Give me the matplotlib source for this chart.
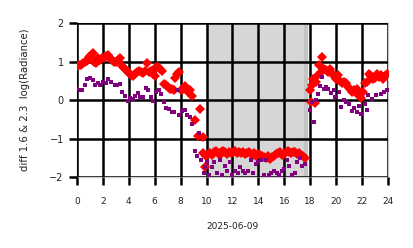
import numpy as np
import matplotlib.pyplot as plt

# hours of 2025-06-09 and log radiance difference
red_t = [0.0, 0.15, 0.3, 0.45, 0.6, 0.75, 0.9, 1.05, 1.2, 1.35, 1.5, 1.65, 1.8, 1.95,
         2.1, 2.25, 2.4, 2.55, 2.7, 2.85, 3.0, 3.15, 3.3, 3.45, 3.6, 3.75, 3.9, 4.05,
         4.2, 4.35, 4.5, 4.65, 4.8, 4.95, 5.1, 5.25, 5.4, 5.55, 5.7, 5.85, 6.0, 6.1,
         6.25, 6.4, 6.55, 6.7, 6.85, 7.0, 7.15, 7.3, 7.45, 7.55, 7.7, 7.85, 8.0, 8.15,
         8.3, 8.45, 8.6, 8.75, 8.9, 9.1, 9.35, 9.5, 9.7, 9.75, 9.85, 9.95,
         10.1, 10.25, 10.4, 10.55, 10.7, 10.85, 11.0, 11.15, 11.3, 11.45, 11.6, 11.75,
         11.9, 12.05, 12.2, 12.35, 12.5, 12.65, 12.8, 12.95, 13.1, 13.25, 13.4, 13.55,
         13.7, 13.85, 14.0, 14.15, 14.3, 14.45, 14.6, 14.75, 14.9, 15.05, 15.2, 15.35,
         15.5, 15.65, 15.8, 15.95, 16.1, 16.25, 16.4, 16.55, 16.7, 16.85, 17.0, 17.15,
         17.3, 17.45, 17.6,
         18.0, 18.05, 18.15, 18.25, 18.35, 18.45, 18.55, 18.7, 18.85, 18.95, 19.1, 19.25,
         19.4, 19.55, 19.7, 19.85, 20.0, 20.15, 20.3, 20.45, 20.6, 20.75, 20.9, 21.05,
         21.2, 21.35, 21.5, 21.65, 21.8, 21.95, 22.1, 22.25, 22.4, 22.55, 22.7, 22.85,
         23.0, 23.15, 23.3, 23.45, 23.6, 23.75, 23.9]
red_v = [0.88, 0.92, 0.9, 0.95, 1.0, 1.02, 1.12, 1.18, 1.22, 1.0, 0.95, 1.08, 1.05, 1.1,
         1.08, 1.15, 1.18, 1.1, 1.05, 0.98, 1.0, 1.05, 1.08, 0.88, 0.82, 0.78, 0.72, 0.7,
         0.65, 0.62, 0.68, 0.72, 0.76, 0.72, 0.7, 0.75, 0.95, 0.72, 0.76, 0.68, 0.62, 0.85,
         0.86, 0.8, 0.76, 0.42, 0.38, 0.35, 0.3, 0.28, 0.25, 0.58, 0.68, 0.72, 0.25, 0.3,
         0.36, 0.32, 0.2, 0.25, 0.1, -0.52, -0.93, -0.24, -0.96, -1.38, -1.74, -1.45,
         -1.4, -1.38, -1.42, -1.36, -1.33, -1.38, -1.42, -1.35, -1.32, -1.36, -1.4, -1.34,
         -1.38, -1.36, -1.33, -1.37, -1.35, -1.38, -1.36, -1.4, -1.38, -1.36, -1.4, -1.42,
         -1.38, -1.44, -1.4, -1.42, -1.46, -1.48, -1.5, -1.45, -1.52, -1.48, -1.44, -1.4,
         -1.38, -1.34, -1.42, -1.4, -1.36, -1.32, -1.35, -1.38, -1.34, -1.36, -1.4, -1.38,
         -1.42, -1.46, -1.5,
         0.25, -0.05, 0.4, 0.55, -0.08, 0.48, 0.62, 0.9, 0.72, 1.12, 0.8, 0.78,
         0.74, 0.8, 0.7, 0.62, 0.55, 0.65, 0.5, 0.45, 0.48, 0.45, 0.35, 0.3,
         0.2, 0.25, 0.18, 0.28, 0.12, 0.05, 0.22, 0.45, 0.48, 0.68, 0.62, 0.55,
         0.58, 0.68, 0.6, 0.65, 0.55, 0.62, 0.68]

purple_t = [0.0, 0.2, 0.4, 0.6, 0.8, 1.0, 1.2, 1.4, 1.6, 1.8, 2.0, 2.2, 2.4, 2.6, 2.9,
            3.1, 3.3, 3.5, 3.7, 3.9, 4.1, 4.3, 4.5, 4.7, 4.9, 5.1, 5.3, 5.5, 5.7, 5.9,
            6.1, 6.3, 6.5, 6.7, 6.9, 7.1, 7.3, 7.5, 7.7, 7.9, 8.1, 8.3, 8.5, 8.7, 8.9,
            9.1, 9.3, 9.45, 9.6, 9.8, 9.9,
            10.0, 10.2, 10.4, 10.6, 10.8, 11.0, 11.2, 11.4, 11.6, 11.8, 12.0, 12.2, 12.4,
            12.6, 12.8, 13.0, 13.2, 13.4, 13.6, 13.8, 14.0, 14.2, 14.4, 14.6, 14.8, 15.0,
            15.2, 15.4, 15.6, 15.8, 16.0, 16.2, 16.4, 16.6, 16.8, 17.0, 17.2, 17.4, 17.6,
            18.0, 18.15, 18.3, 18.45, 18.6, 18.75, 18.9, 19.05, 19.2, 19.4, 19.6, 19.8,
            19.9, 20.2, 20.4, 20.6, 20.8, 21.0, 21.2, 21.4, 21.6, 21.8, 21.9, 22.2, 22.4,
            22.5, 22.8, 23.1, 23.5, 23.7, 23.9]
purple_v = [0.3, 0.25, 0.25, 0.38, 0.55, 0.58, 0.52, 0.38, 0.45, 0.4, 0.48, 0.45, 0.55,
            0.48, 0.4, 0.4, 0.42, 0.2, 0.1, -0.02, 0.05, 0.03, 0.1, 0.18, 0.08, 0.08, 0.32,
            0.25, 0.08, -0.02, 0.22, 0.26, 0.15, -0.05, -0.2, -0.22, -0.3, -0.32, 0.25,
            -0.38, -0.28, -0.25, -0.38, -0.45, -0.62, -1.32, -1.45, -0.86, -1.55, -1.9,
            -1.75,
            -1.6, -1.95, -1.75, -1.6, -1.9, -1.55, -1.95, -1.7, -1.85, -1.6, -1.95, -1.85,
            -1.9, -1.75, -1.85, -1.9, -1.85, -1.55, -1.9, -1.65, -1.6, -1.55, -1.95, -1.55,
            -1.95, -1.9, -1.85, -1.9, -1.95, -1.85, -1.8, -1.55, -1.7, -1.95, -1.9, -1.6,
            -1.5, -1.7, -1.65,
            -0.26, -0.05, -0.57, 0.0, 0.15, 0.37, 0.59, 0.3, 0.35, 0.29, 0.19, 0.25,
            0.09, 0.22, -0.17, 0.0, -0.04, -0.1, -0.28, -0.2, -0.3, -0.16, -0.36, -0.11,
            -0.26, 0.13, 0.04, 0.13, 0.17, 0.22, 0.25]

night_start = 10.0
night_end = 17.75

fig = plt.figure(figsize=(4.14, 2.48), dpi=100)
ax = fig.add_axes([0.186, 0.286, 0.751, 0.621])

ax.axvspan(night_start, night_end, color='#d6d6d6', zorder=0)
ax.axvspan(night_end - 0.2, night_end, color='#bbbbbb', alpha=0.5, zorder=0)

ax.plot(red_t, red_v, 'D', color='red', ms=4.6, mew=0, zorder=3)
ax.plot(purple_t, purple_v, 's', color='purple', ms=2.8, mew=0, zorder=4)

ax.set_xlim(0, 24)
ax.set_ylim(-2, 2)
ax.set_xticks(np.arange(0, 25, 2))
ax.set_yticks([-2, -1, 0, 1, 2])
ax.grid(True, color='black', lw=1.8, zorder=2)
ax.set_axisbelow(False)
ax.tick_params(axis='both', length=6, width=1.8, color='black', labelsize=7,
               labelcolor='#222222')
ax.tick_params(axis='x', labelsize=6.5, pad=8)
for s in ax.spines.values():
    s.set_color('#cccccc')
    s.set_linewidth(1)

ax.set_xlabel('2025-06-09', fontsize=6.5, labelpad=12, color='#222222')
ax.set_ylabel('diff 1.6 & 2.3  log(Radiance)', fontsize=7.3, labelpad=14,
              color='#222222')

plt.savefig('out.png', dpi=100)
